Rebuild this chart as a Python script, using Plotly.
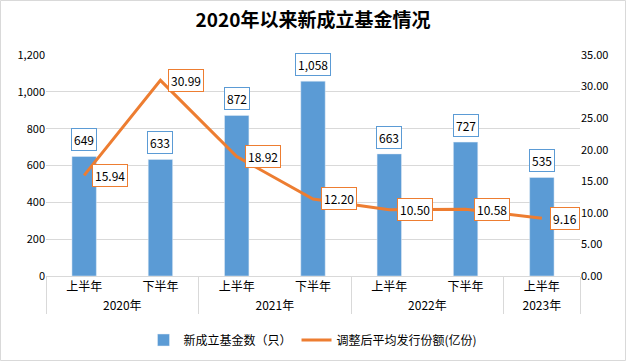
import plotly.graph_objects as go

years = ["2020年", "2020年", "2021年", "2021年", "2022年", "2022年", "2023年"]
halves = ["上半年", "下半年", "上半年", "下半年", "上半年", "下半年", "上半年"]
fund_counts = [649, 633, 872, 1058, 663, 727, 535]
avg_shares = [15.94, 30.99, 18.92, 12.20, 10.50, 10.58, 9.16]

bar_name = "新成立基金数（只）"
line_name = "调整后平均发行份额(亿份)"
title = "2020年以来新成立基金情况"

BLUE = "#5B9BD5"
ORANGE = "#ED7D31"
FONT = "Noto Sans CJK SC"

fig = go.Figure()
fig.add_trace(go.Bar(x=[years, halves], y=fund_counts, name=bar_name,
                     marker_color=BLUE, width=0.32, yaxis="y"))
fig.add_trace(go.Scatter(x=[years, halves], y=avg_shares, name=line_name,
                         mode="lines", line=dict(color=ORANGE, width=3), yaxis="y2"))

ann = []
for i, v in enumerate(fund_counts):
    ann.append(dict(x=i, y=v, xref="x", yref="y", text=f"{v:,}", showarrow=False,
                    yanchor="bottom", yshift=5, bordercolor=BLUE, borderwidth=1,
                    borderpad=2, bgcolor="white", font=dict(size=12, color="black")))
for i, v in enumerate(avg_shares):
    ann.append(dict(x=i, y=v, xref="x", yref="y2", text=f"{v:.2f}", showarrow=False,
                    xanchor="left", yanchor="middle", xshift=8, bordercolor=ORANGE,
                    borderwidth=1, borderpad=2, bgcolor="white",
                    font=dict(size=12, color="black")))

L, R, T, B = 46, 46, 55, 85
W, H = 626, 361
pw, ph = W - L - R, H - T - B

fig.update_layout(
    width=W, height=H,
    margin=dict(l=L, r=R, t=T, b=B, autoexpand=False),
    paper_bgcolor="white", plot_bgcolor="white",
    font=dict(family=FONT, size=11, color="black"),
    title=dict(text=f"<b>{title}</b>", x=0.5, xanchor="center", y=1 - 20 / H, yanchor="middle",
               font=dict(size=19, color="black", family=FONT)),
    showlegend=True,
    legend=dict(orientation="h", x=0.5, xanchor="center", y=-(340 - (T + ph)) / ph,
                yanchor="middle", font=dict(size=12, color="black"), traceorder="normal"),
    bargap=0.5,
    xaxis=dict(type="multicategory", showline=True, linecolor="#D9D9D9", automargin=False,
               showdividers=True, dividercolor="#D9D9D9", dividerwidth=1,
               tickfont=dict(size=12, color="black"), ticks=""),
    yaxis=dict(range=[0, 1200], dtick=200, tickformat=",", showgrid=True, automargin=False,
               gridcolor="#D9D9D9", zeroline=False, tickfont=dict(size=11, color="black"),
               ticks=""),
    yaxis2=dict(range=[0, 35], dtick=5, tickformat=".2f", overlaying="y", side="right",
                automargin=False, showgrid=False, zeroline=False,
                tickfont=dict(size=11, color="black"), ticks=""),
    annotations=ann,
    shapes=[dict(type="rect", xref="paper", yref="paper",
                 x0=-(L - 0.5) / pw, x1=1 + (R - 0.5) / pw,
                 y0=-(B - 0.5) / ph, y1=1 + (T - 0.5) / ph,
                 line=dict(color="#D9D9D9", width=1), layer="below")],
)

fig.write_html("out.html", config={"displayModeBar": False},
               post_script="document.body.style.margin='0';")
